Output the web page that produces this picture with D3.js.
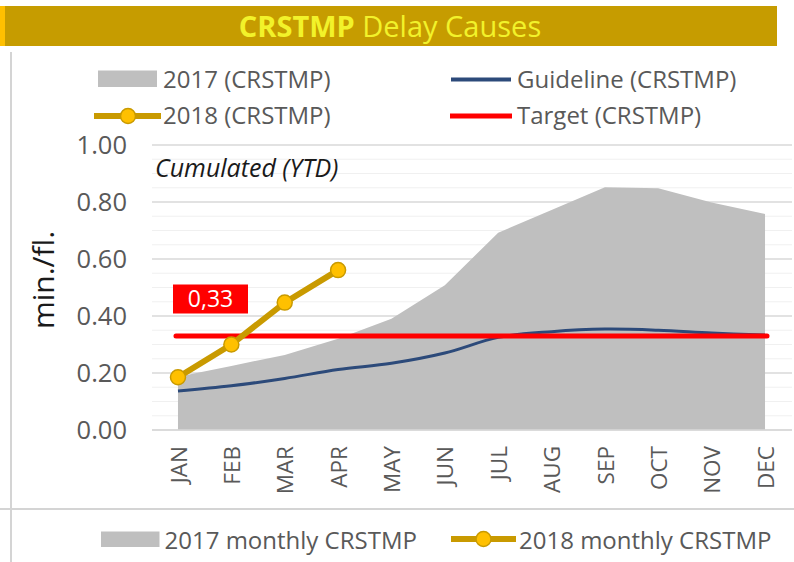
<!DOCTYPE html>
<html>
<head>
<meta charset="utf-8">
<script src="https://cdn.jsdelivr.net/npm/d3@7"></script>
<style>
  html, body { margin: 0; padding: 0; background: #ffffff; }
  svg { display: block; font-family: "Open Sans", sans-serif; }
</style>
</head>
<body>
<svg id="chart" width="794" height="562"></svg>
<script>
// ---- data ----
const months = ["JAN","FEB","MAR","APR","MAY","JUN","JUL","AUG","SEP","OCT","NOV","DEC"];
const values2017 = [0.187, 0.225, 0.263, 0.32, 0.39, 0.508, 0.692, 0.772, 0.852, 0.848, 0.798, 0.758];
const guideline = [0.137, 0.155, 0.181, 0.212, 0.234, 0.27, 0.325, 0.345, 0.354, 0.35, 0.34, 0.333];
const values2018 = [0.185, 0.30, 0.447, 0.561];
const targetValue = 0.33;
const targetLabel = "0,33";
const yTicks = [0, 0.2, 0.4, 0.6, 0.8, 1.0];
const title = ["CRSTMP", " Delay Causes"];
const topLegend = ["2017 (CRSTMP)", "2018 (CRSTMP)", "Guideline (CRSTMP)", "Target (CRSTMP)"];
const bottomLegend = ["2017 monthly CRSTMP", "2018 monthly CRSTMP"];

// ---- styles ----
const C = {
  bar: "#C69C00", barEdge: "#FFC000", titleText: "#F2F22A",
  area: "#BFBFBF", gold: "#C99A00", goldFill: "#FFC000",
  navy: "#2C4A7A", red: "#FF0000", text: "#595959",
  gridMajor: "#D9D9D9", gridMinor: "#F0F0F0", frame: "#D4D4D4"
};

const svg = d3.select("#chart");

// ---- title bar ----
svg.append("rect").attr("x", 0).attr("y", 6).attr("width", 777).attr("height", 40).attr("fill", C.bar);
svg.append("rect").attr("x", 0).attr("y", 6).attr("width", 5).attr("height", 40).attr("fill", C.barEdge);
const t = svg.append("text").attr("x", 390).attr("y", 37).attr("text-anchor", "middle")
  .attr("font-size", 29).attr("fill", C.titleText);
t.append("tspan").attr("font-weight", "bold").text(title[0]);
t.append("tspan").text(title[1]);

// ---- frame lines ----
svg.append("line").attr("x1", 11).attr("x2", 11).attr("y1", 52).attr("y2", 562)
  .attr("stroke", C.frame).attr("stroke-width", 2);
svg.append("line").attr("x1", 0).attr("x2", 794).attr("y1", 509).attr("y2", 509)
  .attr("stroke", C.frame).attr("stroke-width", 2);

// ---- scales ----
const x = d3.scalePoint().domain(months).range([151.3, 791.7]).padding(0.5);
const y = d3.scaleLinear().domain([0, 1]).range([430, 145]);

// ---- gridlines ----
const minor = d3.range(0, 1.0001, 0.05).filter(v => Math.abs(Math.round(v * 5) - v * 5) > 1e-6);
svg.append("g").selectAll("line").data(minor).join("line")
  .attr("x1", 152).attr("x2", 792)
  .attr("y1", d => y(d)).attr("y2", d => y(d))
  .attr("stroke", C.gridMinor).attr("stroke-width", 1.2);
svg.append("g").selectAll("line").data(yTicks).join("line")
  .attr("x1", 152).attr("x2", 792)
  .attr("y1", d => y(d)).attr("y2", d => y(d))
  .attr("stroke", C.gridMajor).attr("stroke-width", 1.4);

// ---- y axis ----
const yAxis = d3.axisLeft(y).tickValues(yTicks).tickFormat(d3.format(".2f")).tickSize(0).tickPadding(0);
const gy = svg.append("g").attr("transform", "translate(127,0)").call(yAxis);
gy.select(".domain").remove();
gy.selectAll("text").attr("font-size", 25.5).attr("fill", C.text).attr("font-family", "Open Sans, sans-serif");

svg.append("text").attr("transform", "translate(54,280) rotate(-90)")
  .attr("text-anchor", "middle").attr("font-size", 30).attr("fill", "#1a1a1a").text("min./fl.");

// ---- x axis ----
const xAxis = d3.axisBottom(x).tickSize(0).tickPadding(0);
const gx = svg.append("g").attr("transform", "translate(0,430)").call(xAxis);
gx.select(".domain").remove();
gx.selectAll("text")
  .attr("font-size", 22.5).attr("fill", C.text).attr("font-family", "Open Sans, sans-serif")
  .attr("transform", "rotate(-90)")
  .attr("text-anchor", "end").attr("x", -16).attr("y", 0).attr("dy", "0.36em");

// ---- 2017 area ----
const area = d3.area().x((d, i) => x(months[i])).y0(y(0)).y1(d => y(d));
svg.append("path").datum(values2017).attr("d", area).attr("fill", C.area);

// axis line
svg.append("line").attr("x1", 152).attr("x2", 792).attr("y1", y(0)).attr("y2", y(0))
  .attr("stroke", C.gridMajor).attr("stroke-width", 1.5);

// ---- guideline ----
const gline = d3.line().x((d, i) => x(months[i])).y(d => y(d)).curve(d3.curveCatmullRom);
svg.append("path").datum(guideline).attr("d", gline)
  .attr("fill", "none").attr("stroke", C.navy).attr("stroke-width", 3);

// ---- target ----
svg.append("line").attr("x1", x("JAN") - 2).attr("x2", x("DEC") + 2)
  .attr("y1", y(targetValue)).attr("y2", y(targetValue))
  .attr("stroke", C.red).attr("stroke-width", 5).attr("stroke-linecap", "round");

// ---- 2018 line ----
const line18 = d3.line().x((d, i) => x(months[i])).y(d => y(d));
svg.append("path").datum(values2018).attr("d", line18)
  .attr("fill", "none").attr("stroke", C.gold).attr("stroke-width", 6);
svg.append("g").selectAll("circle").data(values2018).join("circle")
  .attr("cx", (d, i) => x(months[i])).attr("cy", d => y(d)).attr("r", 7.5)
  .attr("fill", C.goldFill).attr("stroke", C.gold).attr("stroke-width", 1.5);

// ---- target label ----
svg.append("rect").attr("x", 173).attr("y", 284.5).attr("width", 75).attr("height", 29).attr("fill", C.red);
svg.append("text").attr("x", 210.5).attr("y", 299).attr("dy", "0.36em").attr("text-anchor", "middle")
  .attr("font-size", 23).attr("fill", "#ffffff").text(targetLabel);

// ---- annotation ----
svg.append("text").attr("x", 155).attr("y", 168).attr("dy", "0.36em")
  .attr("font-size", 25).attr("font-style", "italic").attr("fill", "#1a1a1a").text("Cumulated (YTD)");

// ---- top legend ----
const lg = svg.append("g").attr("font-size", 24).attr("fill", C.text);
lg.append("rect").attr("x", 98).attr("y", 70.5).attr("width", 59).attr("height", 16.5).attr("fill", C.area);
lg.append("text").attr("x", 163).attr("y", 79).attr("dy", "0.36em").text(topLegend[0]);
lg.append("line").attr("x1", 94).attr("x2", 161).attr("y1", 116).attr("y2", 116)
  .attr("stroke", C.gold).attr("stroke-width", 6);
lg.append("circle").attr("cx", 128).attr("cy", 116).attr("r", 7.5)
  .attr("fill", C.goldFill).attr("stroke", C.gold).attr("stroke-width", 1.5);
lg.append("text").attr("x", 163).attr("y", 115).attr("dy", "0.36em").text(topLegend[1]);
lg.append("line").attr("x1", 451).attr("x2", 511).attr("y1", 79.5).attr("y2", 79.5)
  .attr("stroke", C.navy).attr("stroke-width", 4);
lg.append("text").attr("x", 517).attr("y", 79).attr("dy", "0.36em").text(topLegend[2]);
lg.append("line").attr("x1", 450).attr("x2", 512).attr("y1", 116).attr("y2", 116)
  .attr("stroke", C.red).attr("stroke-width", 5);
lg.append("text").attr("x", 517).attr("y", 115).attr("dy", "0.36em").text(topLegend[3]);

// ---- bottom legend ----
const bl = svg.append("g").attr("font-size", 24).attr("fill", C.text);
bl.append("rect").attr("x", 101).attr("y", 531.5).attr("width", 58.5).attr("height", 15.5).attr("fill", C.area);
bl.append("text").attr("x", 164.5).attr("y", 540).attr("dy", "0.36em").text(bottomLegend[0]);
bl.append("line").attr("x1", 451).attr("x2", 516).attr("y1", 539).attr("y2", 539)
  .attr("stroke", C.gold).attr("stroke-width", 6);
bl.append("circle").attr("cx", 483.5).attr("cy", 539).attr("r", 7.5)
  .attr("fill", C.goldFill).attr("stroke", C.gold).attr("stroke-width", 1.5);
bl.append("text").attr("x", 519).attr("y", 540).attr("dy", "0.36em").text(bottomLegend[1]);
</script>
</body>
</html>
